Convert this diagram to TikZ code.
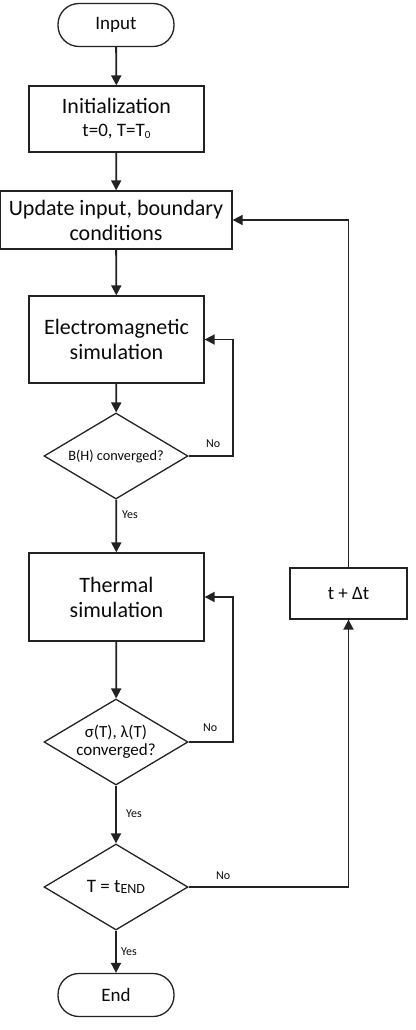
\documentclass[tikz,border=0pt]{standalone}
\usepackage{fontspec}
\setmainfont{Carlito}
\usetikzlibrary{arrows.meta,positioning,shapes.geometric}
\definecolor{fcline}{RGB}{34,34,34}
\definecolor{fctext}{RGB}{10,10,10}

% small lowered index text, as in T0 and tEND
\newcommand{\smallsub}[2]{\raisebox{-1.2pt}{\fontsize{#1}{#1}\selectfont #2}}

\tikzset{
  procbox/.style={draw=fcline, line width=1.3pt, rectangle, align=center, inner sep=2pt, text=fctext, font=\fontsize{22}{25}\selectfont},
  termbox/.style={draw=fcline, line width=1.3pt, rectangle, rounded corners=21pt, minimum width=116pt, minimum height=43pt, text=fctext, font=\fontsize{19}{22}\selectfont},
  decbox/.style={draw=fcline, line width=1.3pt, diamond, aspect=1.67, inner sep=0pt, minimum width=144pt, minimum height=86pt, align=center, text=fctext},
  flow/.style={draw=fcline, line width=1.8pt, -{Triangle[length=10pt,width=10pt]}},
  lbl/.style={font=\fontsize{12}{12}\selectfont, anchor=west, inner sep=0pt, text=fctext}
}

\begin{document}
\begin{tikzpicture}[x=1pt,y=-1pt]
  \useasboundingbox (0,0) rectangle (415,1030);
  % main column
  \node[termbox] (input) at (116,25) {Input};
  \node[procbox, minimum width=175pt, minimum height=66pt] (init) at (116.5,119)
    {Initialization\\[-2pt]{\fontsize{19}{22}\selectfont t=0, T=T\smallsub{11}{0}}};
  \node[procbox, minimum width=232pt, minimum height=58pt] (update) at (116,220)
    {Update input, boundary\\conditions};
  \node[procbox, minimum width=175pt, minimum height=87pt] (emsim) at (116.5,339.5)
    {Electromagnetic\\simulation};
  \node[decbox, font=\fontsize{14.3}{16}\selectfont] (bhconv) at (116,456) {B(H) converged?};
  \node[procbox, minimum width=175pt, minimum height=88pt] (thsim) at (116.5,597)
    {Thermal\\simulation};
  \node[decbox, font=\fontsize{17}{18}\selectfont] (sigconv) at (116,742)
    {σ(T), λ(T)\\converged?};
  \node[decbox, font=\fontsize{19}{22}\selectfont] (tend) at (116,887)
    {T = t\smallsub{14}{END}};
  \node[termbox] (stop) at (116,995) {End};
  % time step box
  \node[procbox, minimum width=117pt, minimum height=51pt, font=\fontsize{19}{22}\selectfont] (tstep) at (348.5,593.5)
    {t + Δt};
  % connectors
  \draw[flow] (input) -- (init);
  \draw[flow] (init) -- (update);
  \draw[flow] (update) -- (emsim);
  \draw[flow] (emsim) -- (bhconv);
  \draw[flow] (bhconv.east) -- ++(44,0) |- (emsim.east);
  \draw[flow] (bhconv) -- (thsim);
  \draw[flow] (thsim) -- (sigconv);
  \draw[flow] (sigconv.east) -- ++(44,0) |- (thsim.east);
  \draw[flow] (sigconv) -- (tend);
  \draw[flow] (tend) -- (stop);
  \draw[flow] (tend.east) -| (tstep.south);
  \draw[flow] (tstep.north) |- (update.east);
  % branch labels
  \node[lbl] (bhno) at (206,444) {No};
  \node[lbl] (bhyes) at (122,515) {Yes};
  \node[lbl] (signo) at (203,728) {No};
  \node[lbl] (sigyes) at (126,814) {Yes};
  \node[lbl] (tendno) at (216,876) {No};
  \node[lbl] (tendyes) at (121,952) {Yes};
\end{tikzpicture}
\end{document}
